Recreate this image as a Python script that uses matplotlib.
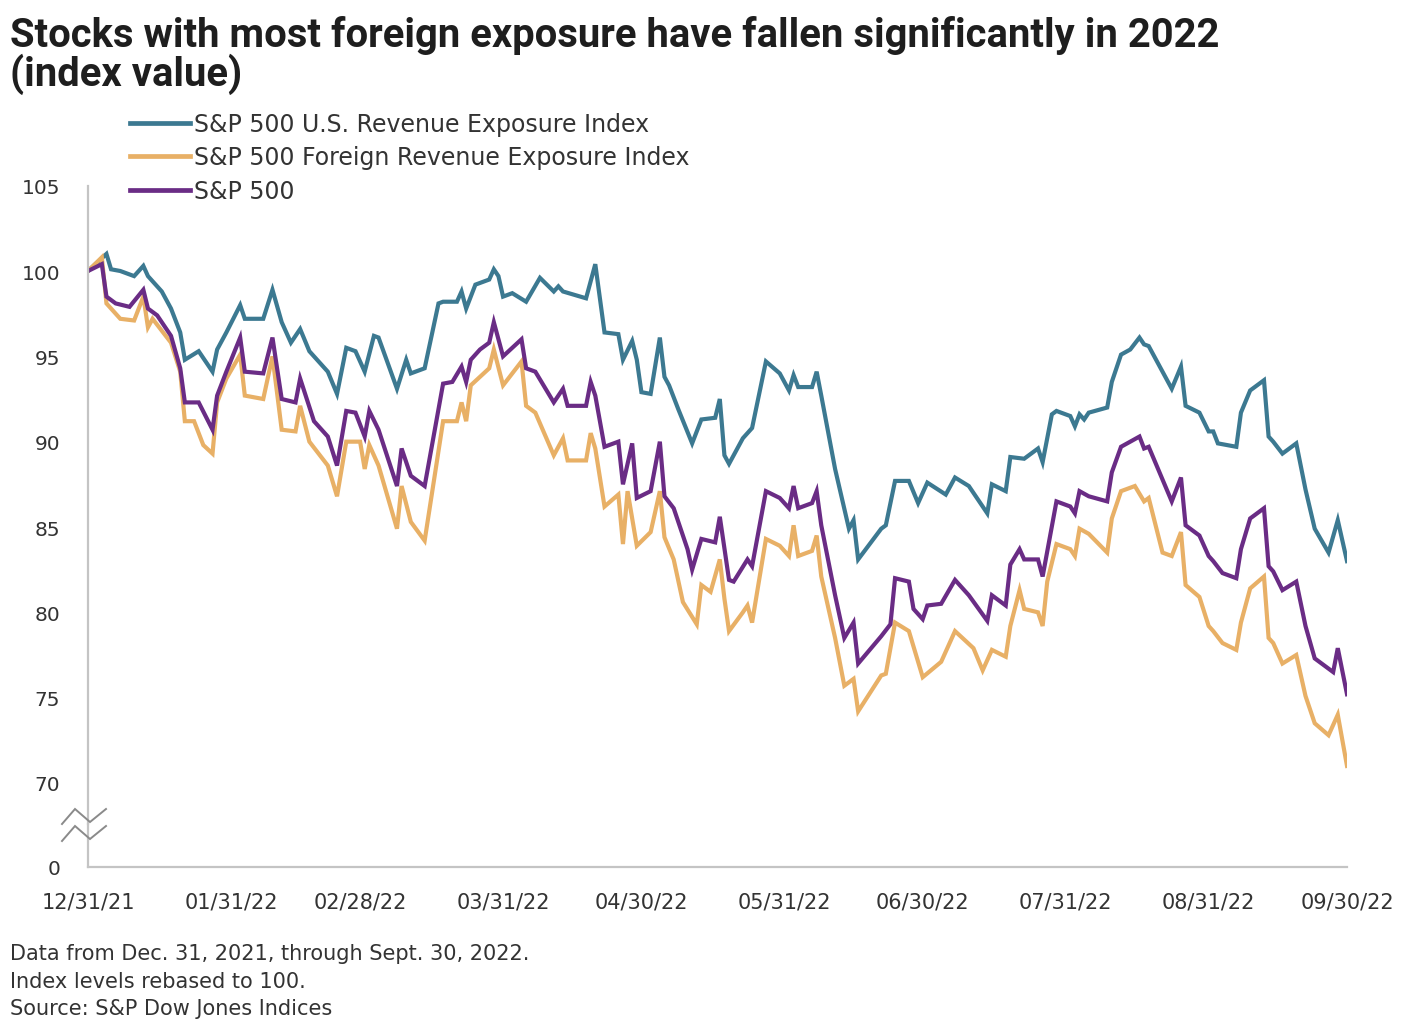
import numpy as np
import pandas as pd
import matplotlib
matplotlib.use("Agg")
import matplotlib.pyplot as plt
import matplotlib.dates as mdates
from matplotlib import font_manager as fm
from matplotlib.lines import Line2D

# ---------------- data (days after 2021-12-31, index value) ----------------
START = "2021-12-31"

us_days = [0, 4, 5, 7, 10, 12, 13, 16, 18, 20,
           21, 24, 27, 28, 30, 33, 34, 38, 40, 42,
           44, 46, 48, 52, 54, 56, 58, 60, 62, 63,
           67, 69, 70, 73, 76, 77, 80, 81, 82, 84,
           87, 88, 89, 90, 92, 95, 98, 101, 102, 103,
           108, 110, 112, 115, 116, 118, 119, 120, 122, 124,
           125, 126, 128, 131, 133, 136, 137, 138, 139, 142,
           144, 147, 150, 152, 153, 154, 157, 158, 159, 162,
           165, 166, 167, 172, 173, 175, 178, 180, 182, 186,
           188, 191, 195, 196, 199, 200, 203, 206, 207, 209,
           210, 213, 214, 215, 216, 217, 221, 222, 224, 226,
           228, 229, 230, 235, 237, 238, 241, 243, 244, 245,
           249, 250, 252, 255, 256, 257, 259, 262, 264, 266,
           269, 271, 273]
us_vals = [100.0, 101.0, 100.1, 100.0, 99.7, 100.3, 99.7, 98.8, 97.8, 96.4,
           94.8, 95.3, 94.1, 95.4, 96.4, 98.0, 97.2, 97.2, 98.9, 97.0,
           95.8, 96.6, 95.3, 94.1, 92.8, 95.5, 95.3, 94.1, 96.2, 96.1,
           93.1, 94.8, 94.0, 94.3, 98.1, 98.2, 98.2, 98.8, 97.8, 99.2,
           99.5, 100.1, 99.7, 98.5, 98.7, 98.2, 99.6, 98.8, 99.1, 98.8,
           98.4, 100.4, 96.4, 96.3, 94.8, 95.9, 94.8, 92.9, 92.8, 96.1,
           93.8, 93.3, 91.9, 89.9, 91.3, 91.4, 92.5, 89.2, 88.7, 90.2,
           90.8, 94.7, 94.0, 93.0, 93.9, 93.2, 93.2, 94.1, 92.7, 88.4,
           84.9, 85.4, 83.1, 84.9, 85.1, 87.7, 87.7, 86.4, 87.6, 86.9,
           87.9, 87.4, 85.8, 87.5, 87.1, 89.1, 89.0, 89.6, 88.8, 91.6,
           91.8, 91.5, 90.9, 91.6, 91.3, 91.7, 92.0, 93.5, 95.1, 95.4,
           96.1, 95.7, 95.6, 93.1, 94.4, 92.1, 91.7, 90.6, 90.6, 89.9,
           89.7, 91.7, 93.0, 93.6, 90.3, 90.0, 89.3, 89.9, 87.2, 84.9,
           83.5, 85.4, 83.0]

foreign_days = [0, 3, 4, 7, 10, 12, 13, 14, 18, 20,
                21, 23, 25, 27, 28, 30, 33, 34, 38, 40,
                42, 45, 46, 48, 52, 54, 56, 59, 60, 61,
                63, 67, 68, 70, 73, 77, 80, 81, 82, 83,
                87, 88, 90, 94, 95, 97, 101, 103, 104, 108,
                109, 110, 112, 115, 116, 117, 119, 122, 124, 125,
                127, 129, 132, 133, 135, 137, 138, 139, 142, 143,
                144, 147, 150, 152, 153, 154, 157, 158, 159, 162,
                164, 166, 167, 172, 173, 175, 178, 180, 181, 185,
                188, 192, 194, 196, 199, 200, 202, 203, 206, 207,
                208, 210, 213, 214, 215, 217, 221, 222, 224, 227,
                229, 230, 233, 235, 237, 238, 241, 243, 244, 246,
                249, 250, 252, 255, 256, 257, 259, 262, 264, 266,
                269, 271, 273]
foreign_vals = [100.0, 100.8, 98.1, 97.2, 97.1, 98.5, 96.7, 97.2, 95.8, 94.1,
                91.2, 91.2, 89.8, 89.3, 92.3, 93.7, 95.1, 92.7, 92.5, 95.0,
                90.7, 90.6, 92.1, 90.0, 88.6, 86.8, 90.0, 90.0, 88.4, 89.8,
                88.6, 84.9, 87.4, 85.3, 84.2, 91.2, 91.2, 92.3, 91.2, 93.3,
                94.3, 95.4, 93.3, 94.7, 92.1, 91.7, 89.2, 90.2, 88.9, 88.9,
                90.5, 89.6, 86.2, 86.9, 84.0, 87.1, 83.9, 84.7, 87.1, 84.4,
                83.1, 80.6, 79.3, 81.6, 81.2, 83.1, 80.8, 78.9, 80.0, 80.4,
                79.4, 84.3, 83.9, 83.3, 85.1, 83.3, 83.6, 84.5, 82.1, 78.5,
                75.7, 76.1, 74.2, 76.3, 76.4, 79.4, 78.9, 77.1, 76.2, 77.1,
                78.9, 77.9, 76.6, 77.8, 77.4, 79.2, 81.3, 80.2, 80.0, 79.2,
                81.8, 84.0, 83.7, 83.3, 84.9, 84.6, 83.5, 85.5, 87.1, 87.4,
                86.5, 86.7, 83.5, 83.3, 84.7, 81.6, 80.9, 79.2, 78.9, 78.2,
                77.8, 79.4, 81.4, 82.1, 78.5, 78.2, 77.0, 77.5, 75.1, 73.5,
                72.8, 74.0, 71.0]

spx_days = [0, 3, 4, 6, 9, 12, 13, 15, 18, 20,
            21, 24, 27, 28, 30, 33, 34, 38, 40, 42,
            45, 46, 49, 52, 54, 56, 58, 60, 61, 63,
            67, 68, 70, 73, 77, 79, 81, 82, 83, 85,
            87, 88, 90, 94, 95, 97, 101, 103, 104, 108,
            109, 110, 112, 115, 116, 118, 119, 122, 124, 125,
            127, 130, 131, 133, 136, 137, 139, 140, 143, 144,
            147, 150, 152, 153, 154, 157, 158, 159, 162, 164,
            166, 167, 172, 174, 175, 178, 179, 181, 182, 185,
            188, 191, 195, 196, 199, 200, 202, 203, 206, 207,
            210, 213, 214, 215, 217, 221, 222, 224, 226, 228,
            229, 230, 235, 237, 238, 241, 243, 244, 246, 249,
            250, 252, 255, 256, 257, 259, 262, 264, 266, 270,
            271, 273]
spx_vals = [100.0, 100.4, 98.5, 98.1, 97.9, 98.9, 97.8, 97.4, 96.2, 94.3,
            92.3, 92.3, 90.7, 92.7, 94.1, 96.1, 94.1, 94.0, 96.1, 92.5,
            92.3, 93.7, 91.2, 90.3, 88.6, 91.8, 91.7, 90.3, 91.8, 90.7,
            87.4, 89.6, 88.0, 87.4, 93.4, 93.5, 94.4, 93.5, 94.8, 95.4,
            95.8, 97.0, 95.0, 96.0, 94.3, 94.1, 92.3, 93.1, 92.1, 92.1,
            93.5, 92.7, 89.7, 90.0, 87.5, 89.9, 86.7, 87.1, 90.0, 86.8,
            86.1, 83.7, 82.5, 84.3, 84.1, 85.6, 81.9, 81.8, 83.1, 82.7,
            87.1, 86.7, 86.1, 87.4, 86.1, 86.4, 87.1, 85.1, 81.0, 78.5,
            79.4, 77.0, 78.6, 79.3, 82.0, 81.8, 80.2, 79.6, 80.4, 80.5,
            81.9, 81.0, 79.5, 81.0, 80.4, 82.8, 83.7, 83.1, 83.1, 82.1,
            86.5, 86.2, 85.8, 87.1, 86.8, 86.5, 88.2, 89.7, 90.0, 90.3,
            89.6, 89.7, 86.5, 87.9, 85.1, 84.5, 83.3, 83.0, 82.3, 82.0,
            83.7, 85.5, 86.1, 82.7, 82.4, 81.3, 81.8, 79.2, 77.3, 76.5,
            77.9, 75.2]

series_labels = ["S&P 500 U.S. Revenue Exposure Index",
                 "S&P 500 Foreign Revenue Exposure Index",
                 "S&P 500"]
series_colors = ["#3c7991", "#e8b066", "#6a2c85"]

tick_dates = ["2021-12-31", "2022-01-31", "2022-02-28", "2022-03-31", "2022-04-30",
              "2022-05-31", "2022-06-30", "2022-07-31", "2022-08-31", "2022-09-30"]
y_ticks = [70, 75, 80, 85, 90, 95, 100, 105]

title_line1 = "Stocks with most foreign exposure have fallen significantly in 2022"
title_line2 = "(index value)"
notes = ["Data from Dec. 31, 2021, through Sept. 30, 2022.",
         "Index levels rebased to 100.",
         "Source: S&P Dow Jones Indices"]

# ---------------- figure layout ----------------
W, H = 1411, 1020
fig = plt.figure(figsize=(W / 100, H / 100), dpi=100)
fig.patch.set_facecolor("white")


def fx(px):
    return px / W


def fy(py):
    return 1 - py / H


TXT = "#333333"
SPINE = "#c4c4c4"
body_font = "DejaVu Sans"

# pixel anchors of the value axis
left_px, right_px = 88, 1347
y100_px, y70_px = 272, 784
ppu = (y70_px - y100_px) / 30.0
top_px = y100_px - 5 * ppu           # value 105
brk_px = 825                          # axis break
zero_px = 868                         # value 0
ylo = 70 - (brk_px - y70_px) / ppu

ax = fig.add_axes([fx(left_px), fy(brk_px), fx(right_px) - fx(left_px), fy(top_px) - fy(brk_px)])
axb = fig.add_axes([fx(left_px), fy(zero_px), fx(right_px) - fx(left_px), fy(brk_px) - fy(zero_px)],
                   sharex=ax)

start = pd.Timestamp(START)
series = [(us_days, us_vals), (foreign_days, foreign_vals), (spx_days, spx_vals)]
for (d, v), c, lab in zip(series, series_colors, series_labels):
    dates = start + pd.to_timedelta(d, unit="D")
    ax.plot(dates, v, color=c, lw=3.0, label=lab, solid_joinstyle="miter")

ax.set_xlim(start, pd.Timestamp(tick_dates[-1]))
ax.set_ylim(ylo, 105)
ax.set_yticks(y_ticks)
ax.set_yticklabels([str(t) for t in y_ticks])
for s in ["top", "right", "bottom"]:
    ax.spines[s].set_visible(False)
ax.spines["left"].set_color(SPINE)
ax.spines["left"].set_linewidth(1.6)
ax.tick_params(axis="both", length=0, labelbottom=False, labelsize=14.5,
               labelcolor=TXT, pad=20)
for lbl in ax.get_yticklabels():
    lbl.set_fontfamily(body_font)

axb.set_ylim(0, 1)
axb.set_yticks([0])
axb.set_yticklabels(["0"])
for s in ["top", "right"]:
    axb.spines[s].set_visible(False)
for s in ["left", "bottom"]:
    axb.spines[s].set_color(SPINE)
    axb.spines[s].set_linewidth(1.6)
axb.set_xticks(pd.to_datetime(tick_dates))
axb.xaxis.set_major_formatter(mdates.DateFormatter("%m/%d/%y"))
axb.tick_params(axis="both", length=0, labelsize=15, labelcolor=TXT)
axb.tick_params(axis="y", pad=20, labelsize=14.5)
axb.tick_params(axis="x", pad=18)
for a in (ax, axb):
    a.set_facecolor("none")

# axis break marks (two small waves across the value axis)
for yoff in (0, 17):
    xs = np.array([62, 75, 90, 106])
    ys = np.array([825, 810, 823, 810]) + yoff
    fig.add_artist(Line2D(fx(xs), fy(ys), transform=fig.transFigure,
                          color="#8a8a8a", lw=1.4, solid_joinstyle="miter"))

# legend
handles = [Line2D([0], [0], color=c, lw=3.4) for c in series_colors]
leg = fig.legend(handles, series_labels, loc="upper left",
                 bbox_to_anchor=(fx(130), fy(113)), frameon=False,
                 borderpad=0, borderaxespad=0, handlelength=2.55,
                 handletextpad=0.15, labelspacing=0.40,
                 prop={"family": body_font, "size": 17})
for t in leg.get_texts():
    t.set_color(TXT)


# ---------------- title ----------------
def bold_font():
    for name in ["Roboto", "Lato", "Liberation Sans"]:
        for f in fm.fontManager.ttflist:
            w = f.weight
            isbold = (w in ("bold",)) or (isinstance(w, int) and w == 700)
            if (f.name == name and isbold and str(f.stretch) == "normal"
                    and str(f.style) == "normal"):
                return fm.FontProperties(fname=f.fname)
    return fm.FontProperties(family="DejaVu Sans", weight="bold")


tprop = bold_font()
t1 = fig.text(fx(10), fy(47), title_line1, fontproperties=tprop, fontsize=24,
              color="#1e1e1e", va="baseline", ha="left")
t2 = fig.text(fx(10), fy(86), title_line2, fontproperties=tprop, fontsize=24,
              color="#1e1e1e", va="baseline", ha="left")
fig.canvas.draw()
wcur = t1.get_window_extent().width
scale = (1218 - 10) / wcur
for t in (t1, t2):
    t.set_fontsize(24 * scale)

# ---------------- notes ----------------
for txt, base in zip(notes, [960, 988, 1015]):
    fig.text(fx(10), fy(base), txt, fontsize=15, family=body_font,
             color=TXT, va="baseline", ha="left")

fig.savefig("out.png", dpi=100, facecolor="white")
